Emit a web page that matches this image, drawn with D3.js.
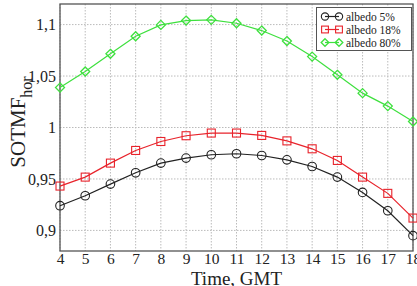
<!DOCTYPE html>
<html><head><meta charset="utf-8">
<script src="https://cdn.jsdelivr.net/npm/d3@7"></script>
<style>body{margin:0;background:#fff}svg{display:block}text{font-family:"Liberation Serif","Times New Roman",Times,serif}</style>
</head><body><svg id="c" width="417" height="286"></svg>
<script>
const hours = [4,5,6,7,8,9,10,11,12,13,14,15,16,17,18];
const albedo5 = [0.924,0.9337,0.945,0.956,0.9654,0.9703,0.9735,0.9745,0.9728,0.9686,0.9621,0.9518,0.9369,0.9191,0.8949];
const albedo18 = [0.9431,0.9518,0.9654,0.9777,0.9864,0.992,0.9946,0.9946,0.9923,0.987,0.9793,0.968,0.9518,0.936,0.912];
const albedo80 = [1.0388,1.0544,1.0716,1.0887,1.0997,1.1039,1.1046,1.1013,1.0942,1.084,1.0689,1.0512,1.0334,1.0208,1.0058];
const yTicks = [0.9,0.95,1,1.05,1.1];
const yTickLabels = ["0,9","0,95","1","1,05","1,1"];
const seriesNames = ["albedo 5%","albedo 18%","albedo 80%"];

const svg = d3.select("#c");
const L=60,R=413,T=4,B=251;
const x = d3.scaleLinear().domain([4,18]).range([L,R]);
const y = d3.scaleLinear().domain([0.88,1.12]).range([B,T]);

// grid
const g = svg.append("g");
g.selectAll(".vx").data(hours).enter().append("line")
 .attr("x1",d=>x(d)).attr("x2",d=>x(d)).attr("y1",T).attr("y2",B)
 .attr("stroke","#bbb").attr("stroke-width",1).attr("stroke-dasharray","1.5,1.5");
g.selectAll(".hy").data(yTicks).enter().append("line")
 .attr("x1",L).attr("x2",R).attr("y1",d=>y(d)).attr("y2",d=>y(d))
 .attr("stroke","#bbb").attr("stroke-width",1).attr("stroke-dasharray","1.5,1.5");

// frame
svg.append("rect").attr("x",L).attr("y",T).attr("width",R-L).attr("height",B-T)
 .attr("fill","none").attr("stroke","#555").attr("stroke-width",1.3);

// axes labels
const xa = svg.append("g").attr("transform",`translate(0,${B})`)
 .call(d3.axisBottom(x).tickValues(hours).tickFormat(d3.format("d")).tickSize(0).tickPadding(2));
xa.select(".domain").remove();
xa.selectAll("text").attr("font-size",15.5).attr("fill","#222").attr("font-family","Liberation Serif");
const ya = svg.append("g").attr("transform",`translate(${L},0)`)
 .call(d3.axisLeft(y).tickValues(yTicks).tickFormat((d,i)=>yTickLabels[i]).tickSize(0).tickPadding(4));
ya.select(".domain").remove();
ya.selectAll("text").attr("font-size",16).attr("fill","#222").attr("font-family","Liberation Serif");

svg.append("text").attr("x",(L+R)/2).attr("y",284.5).attr("text-anchor","middle")
 .attr("font-size",19).attr("fill","#222").text("Time, GMT");
const yt = svg.append("text").attr("transform","translate(25,122) rotate(-90)")
 .attr("text-anchor","middle").attr("font-size",21).attr("fill","#222");
yt.append("tspan").text("SOTMF");
yt.append("tspan").attr("font-size",16).attr("dy",7).text("hor");

const colors = ["#222","#e8232b","#3ee03e"];
const data = [albedo5,albedo18,albedo80];
const line = d3.line().x((d,i)=>x(hours[i])).y(d=>y(d));
function marker(sel,k,cx,cy,s){
  s = s||1;
  if(k===0) sel.append("circle").attr("cx",cx).attr("cy",cy).attr("r",4.3*s).attr("fill","none").attr("stroke",colors[k]).attr("stroke-width",1.1);
  else if(k===1) sel.append("rect").attr("x",cx-4*s).attr("y",cy-4*s).attr("width",8*s).attr("height",8*s).attr("fill","none").attr("stroke",colors[k]).attr("stroke-width",1.1);
  else sel.append("path").attr("d",`M${cx},${cy-4.5*s}L${cx+4.5*s},${cy}L${cx},${cy+4.5*s}L${cx-4.5*s},${cy}Z`).attr("fill","none").attr("stroke",colors[k]).attr("stroke-width",1.3);
}
data.forEach((s,k)=>{
  svg.append("path").datum(s).attr("d",line).attr("fill","none").attr("stroke",colors[k]).attr("stroke-width",1.2);
  const mg = svg.append("g");
  s.forEach((v,i)=>marker(mg,k,x(hours[i]),y(v)));
});

// legend
const lg = svg.append("g");
lg.append("rect").attr("x",316.5).attr("y",7.5).attr("width",95).attr("height",43).attr("fill","#fff").attr("stroke","#555").attr("stroke-width",1);
seriesNames.forEach((n,k)=>{
  const ly = 16.5 + k*13;
  lg.append("line").attr("x1",325).attr("x2",339).attr("y1",ly).attr("y2",ly).attr("stroke",colors[k]).attr("stroke-width",1.2);
  marker(lg,k,325,ly,0.85); marker(lg,k,339,ly,0.85);
  lg.append("text").attr("x",346).attr("y",ly+4).attr("font-size",11.5).attr("fill","#222").text(n);
});
</script></body></html>
